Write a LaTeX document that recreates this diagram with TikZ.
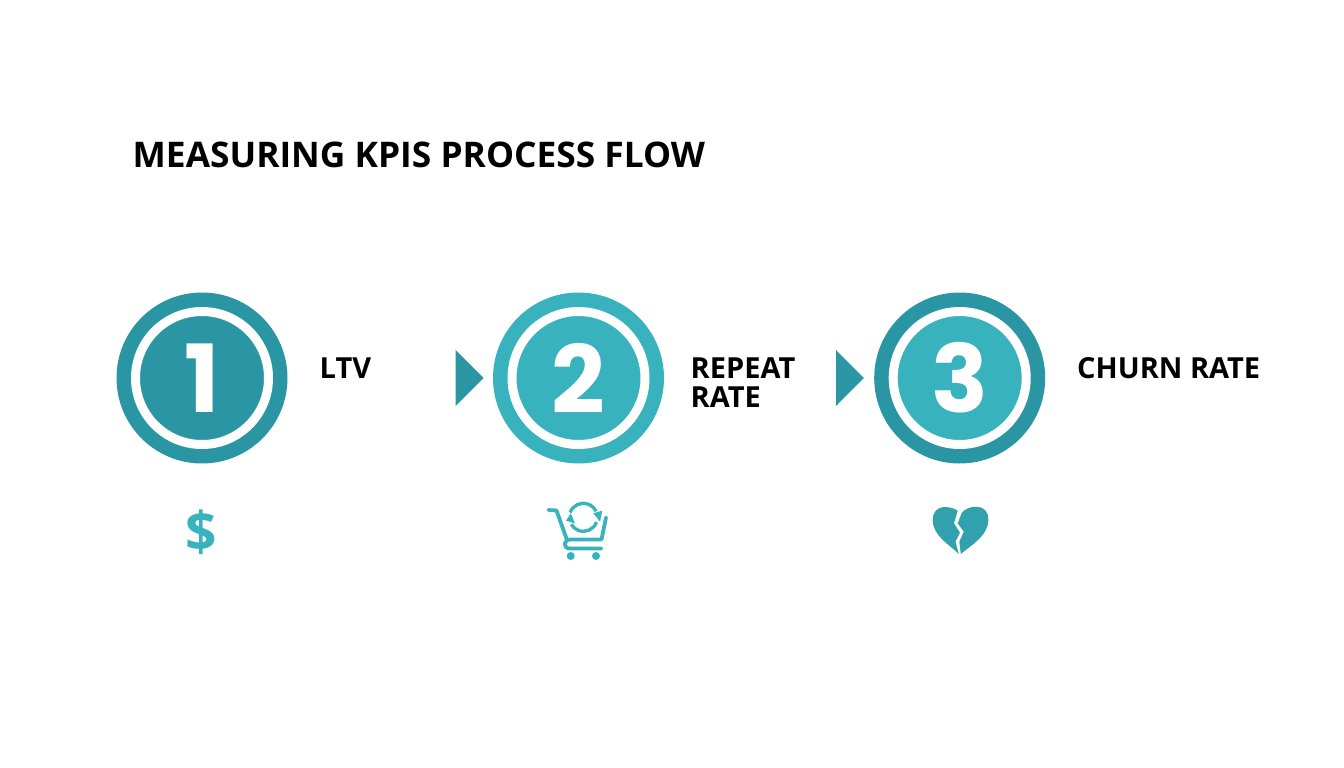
\documentclass[tikz,border=0pt]{standalone}
\usepackage{fontspec}
\setmainfont{Open Sans}
\newfontfamily\digitfont{Poppins}
\definecolor{tealdark}{HTML}{2A96A3}
\definecolor{teallight}{HTML}{38B2BD}
\begin{document}
\begin{tikzpicture}[
  x=1pt,y=-1pt,
  disc/.style={circle,minimum size=171pt,inner sep=0pt,outer sep=0pt},
  numdisc/.style={circle,draw=white,line width=9pt,minimum size=133pt,inner sep=0pt,outer sep=0pt,text=white,font=\digitfont\bfseries\fontsize{94}{94}\selectfont},
  label/.style={anchor=base west,inner sep=0pt,font=\bfseries\fontsize{29}{31}\selectfont},
  carticon/.style={teallight,line width=3.8pt,line cap=round,line join=round},
  arcicon/.style={teallight,line width=3.3pt},
]
\useasboundingbox (0,0) rectangle (1344,768);
\node[anchor=base west,inner sep=0pt,font=\bfseries\fontsize{35.3}{40}\selectfont] (title) at (132.5,167) {MEASURING KPIS PROCESS FLOW};

\node[disc,fill=tealdark] (disc1) at (202,378) {};
\node[numdisc,fill=tealdark] (num1) at (disc1) {1};
\node[disc,fill=teallight] (disc2) at (578.5,378) {};
\node[numdisc,fill=teallight] (num2) at (disc2) {2};
\node[disc,fill=tealdark] (disc3) at (959.7,378) {};
\node[numdisc,fill=teallight] (num3) at (disc3) {3};

\node[label] (ltv) at (319.5,378) {LTV};
\node[label] (repeat) at (690.5,378) {REPEAT};
\node[label] (rate) at (690.5,407) {RATE};
\node[label] (churn) at (1077,378) {CHURN RATE};

% arrow heads
\fill[tealdark!95!teallight] (455.7,350) -- (483.5,378) -- (455.7,406) -- cycle;
\fill[tealdark!95!teallight] (836,350) -- (863.8,378) -- (836,406) -- cycle;

\node[inner sep=0pt,text=teallight,font=\bfseries\fontsize{55}{55}\selectfont] (dollar) at (201.5,532.5) {\$};

% cart
\draw[carticon] (548.5,510) -- (556.5,510.5) -- (567,540) (606,517.5) -- (601.5,539.5) -- (570,539.5)
  .. controls (563,540) and (563,548.5) .. (570,548.5) -- (601.5,548.5);
\fill[teallight] (570.7,556) circle[radius=4pt] (596,556) circle[radius=4pt];
\draw[arcicon] (570.1,512.5) arc[start angle=160,end angle=25,radius=14pt];
\draw[arcicon] (596.5,522.1) arc[start angle=-20,end angle=-150,radius=14pt];
\fill[teallight] (593.3,513.3) -- (602.3,510.7) -- (600,521.7) -- cycle;
\fill[teallight] (566,520.7) -- (575,523.3) -- (570.7,513.3) -- cycle;

% broken heart
\fill[tealdark!60!teallight] (957.7,510.7) .. controls (951,506) and (933,503) .. (932.7,520)
  .. controls (932.7,536) and (950,545) .. (958.8,554) -- (955.5,541.7) -- (960,532.7) -- (954,523.3) -- cycle;
\fill[tealdark!60!teallight] (961.7,513) .. controls (967,505) and (989,502) .. (988.3,520)
  .. controls (988.3,536) and (970,546) .. (960.8,554) -- (959.3,541.7) -- (963.8,531.7) -- (957.7,523.3) -- cycle;
\end{tikzpicture}
\end{document}
